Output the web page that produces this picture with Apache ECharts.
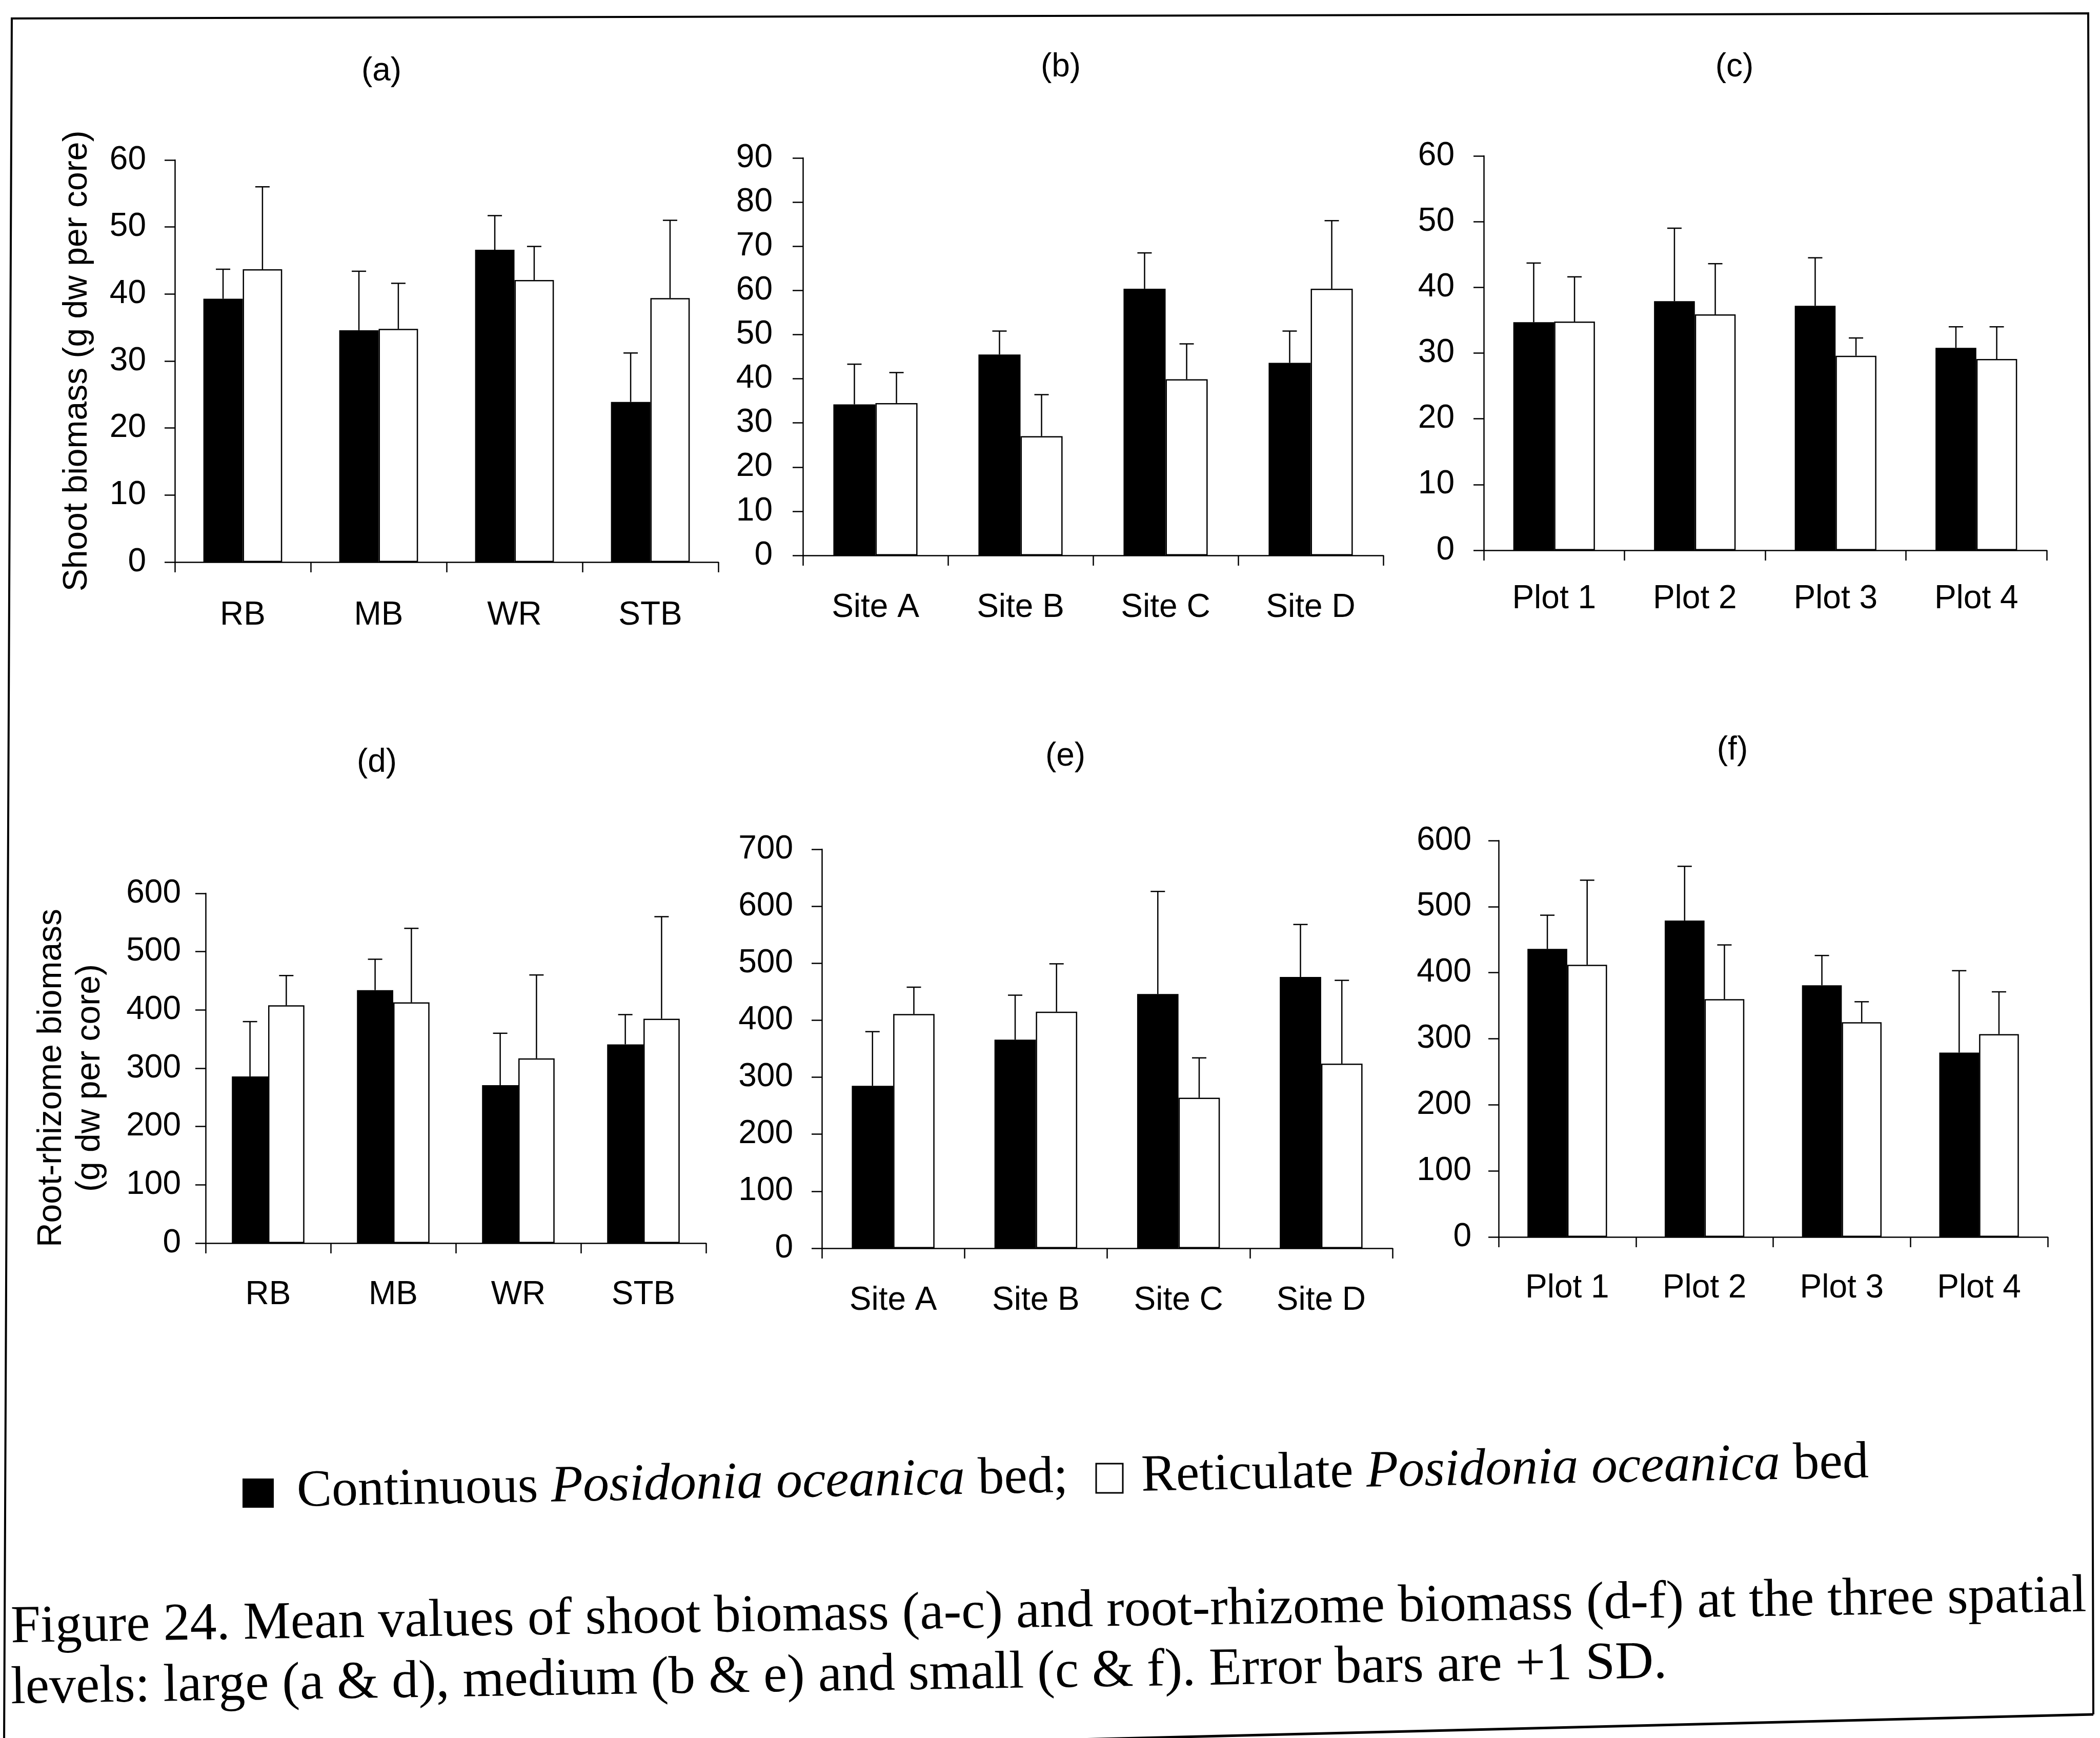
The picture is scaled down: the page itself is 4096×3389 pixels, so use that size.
<!DOCTYPE html>
<html><head><meta charset="utf-8">
<script src="https://cdn.jsdelivr.net/npm/echarts@6/dist/echarts.min.js"></script>
<style>html,body{margin:0;padding:0;background:#fff;}#c{width:4096px;height:3389px;}</style>
</head><body><div id="c"></div>
<script>
// ---------- categories ----------
const catsLarge  = ['RB', 'MB', 'WR', 'STB'];
const catsMedium = ['Site A', 'Site B', 'Site C', 'Site D'];
const catsSmall  = ['Plot 1', 'Plot 2', 'Plot 3', 'Plot 4'];

// ---------- shoot biomass (g dw per core): mean and SD ----------
const shootLargeCont    = [39.3, 34.6, 46.6, 23.9];
const shootLargeContSD  = [4.4, 8.8, 5.1, 7.3];
const shootLargeRet     = [43.7, 34.8, 42.1, 39.4];
const shootLargeRetSD   = [12.3, 6.8, 5.0, 11.6];

const shootMediumCont   = [34.2, 45.5, 60.4, 43.6];
const shootMediumContSD = [9.1, 5.3, 8.1, 7.2];
const shootMediumRet    = [34.5, 27.0, 39.9, 60.4];
const shootMediumRetSD  = [6.9, 9.4, 8.0, 15.4];

const shootSmallCont    = [34.7, 37.9, 37.2, 30.8];
const shootSmallContSD  = [9.0, 11.1, 7.3, 3.2];
const shootSmallRet     = [34.8, 35.9, 29.6, 29.1];
const shootSmallRetSD   = [6.8, 7.7, 2.7, 4.9];

// ---------- root-rhizome biomass (g dw per core): mean and SD ----------
const rootLargeCont     = [286, 434, 271, 341];
const rootLargeContSD   = [94, 53, 89, 51];
const rootLargeRet      = [408, 413, 317, 385];
const rootLargeRetSD    = [51, 127, 143, 175];

const rootMediumCont    = [285, 366, 446, 476];
const rootMediumContSD  = [95, 78, 180, 92];
const rootMediumRet     = [411, 415, 264, 324];
const rootMediumRetSD   = [47, 84, 70, 146];

const rootSmallCont     = [436, 479, 381, 279];
const rootSmallContSD   = [51, 82, 45, 124];
const rootSmallRet      = [412, 360, 325, 307];
const rootSmallRetSD    = [128, 82, 31, 64];

// ---------- axis scales ----------
const yMaxes  = [60, 90, 60, 600, 700, 600];
const ySteps  = [10, 10, 10, 100, 100, 100];
const panelLabels = ['(a)', '(b)', '(c)', '(d)', '(e)', '(f)'];
const yNameShoot = 'Shoot biomass (g dw per core)';
const yNameRoot  = 'Root-rhizome biomass\n(g dw per core)';
const legendContinuous = 'Continuous';
const legendReticulate = 'Reticulate';
const speciesName = 'Posidonia oceanica';
const captionLine1 = 'Figure 24. Mean values of shoot biomass (a-c) and root-rhizome biomass (d-f) at the three spatial';
const captionLine2 = 'levels: large (a & d), medium (b & e) and small (c & f). Error bars are +1 SD.';

// ---------- panels assembled from the arrays ----------
const panels = [
  {cats: catsLarge,  cont: shootLargeCont,  contSD: shootLargeContSD,  ret: shootLargeRet,  retSD: shootLargeRetSD,  name: yNameShoot},
  {cats: catsMedium, cont: shootMediumCont, contSD: shootMediumContSD, ret: shootMediumRet, retSD: shootMediumRetSD, name: ''},
  {cats: catsSmall,  cont: shootSmallCont,  contSD: shootSmallContSD,  ret: shootSmallRet,  retSD: shootSmallRetSD,  name: ''},
  {cats: catsLarge,  cont: rootLargeCont,   contSD: rootLargeContSD,   ret: rootLargeRet,   retSD: rootLargeRetSD,   name: yNameRoot},
  {cats: catsMedium, cont: rootMediumCont,  contSD: rootMediumContSD,  ret: rootMediumRet,  retSD: rootMediumRetSD,  name: ''},
  {cats: catsSmall,  cont: rootSmallCont,   contSD: rootSmallContSD,   ret: rootSmallRet,   retSD: rootSmallRetSD,   name: ''}
];

// ---------- layout (pixels) ----------
const layout = [
  {left: 341,  top: 312,  width: 1060, height: 784, yMargin: 56, xMargin: 72, tx: 744,  ty: 139, nameGap: 153},
  {left: 1566, top: 308,  width: 1132, height: 775, yMargin: 59, xMargin: 70, tx: 2069, ty: 131, nameGap: 0},
  {left: 2894, top: 304,  width: 1098, height: 769, yMargin: 57, xMargin: 63, tx: 3383, ty: 131, nameGap: 0},
  {left: 401,  top: 1742, width: 976,  height: 682, yMargin: 48, xMargin: 69, tx: 735,  ty: 1487, nameGap: 188},
  {left: 1603, top: 1656, width: 1113, height: 778, yMargin: 56, xMargin: 70, tx: 2078, ty: 1475, nameGap: 0},
  {left: 2923, top: 1639, width: 1071, height: 773, yMargin: 53, xMargin: 68, tx: 3379, ty: 1463, nameGap: 0}
];

const SANS = '"Liberation Sans", Arial, Helvetica, sans-serif';
const SERIF = '"Liberation Serif", "Times New Roman", Times, serif';
const FS = 64;
const LW = 2.5;
const SFS = 102;

function errRender(side) {
  return function (params, api) {
    const ci = api.value(0), m = api.value(1), sd = api.value(2);
    const base = api.coord([ci, m]);
    const top = api.coord([ci, m + sd]);
    const cw = api.size([1, 0])[0];
    const x = base[0] + side * cw * 0.145;
    const hw = 14;
    return {
      type: 'group',
      children: [
        {type: 'line', shape: {x1: x, y1: base[1], x2: x, y2: top[1]}, style: {stroke: '#000', lineWidth: LW}},
        {type: 'line', shape: {x1: x - hw, y1: top[1], x2: x + hw, y2: top[1]}, style: {stroke: '#000', lineWidth: LW}}
      ]
    };
  };
}

const grid = [], xAxis = [], yAxis = [], series = [];
panels.forEach((p, i) => {
  const L = layout[i];
  grid.push({left: L.left, top: L.top, width: L.width, height: L.height, containLabel: false});
  xAxis.push({
    gridIndex: i, type: 'category', data: p.cats,
    axisLine: {show: true, lineStyle: {color: '#000', width: LW}},
    axisTick: {show: true, length: 20, alignWithLabel: false, lineStyle: {color: '#000', width: LW}},
    axisLabel: {color: '#000', fontSize: FS, fontFamily: SANS, margin: L.xMargin, interval: 0},
    splitLine: {show: false}
  });
  const ya = {
    gridIndex: i, type: 'value', min: 0, max: yMaxes[i], interval: ySteps[i],
    axisLine: {show: true, lineStyle: {color: '#000', width: LW}},
    axisTick: {show: true, length: 20, lineStyle: {color: '#000', width: LW}},
    axisLabel: {color: '#000', fontSize: FS, fontFamily: SANS, margin: L.yMargin},
    splitLine: {show: false}
  };
  if (p.name) {
    ya.name = p.name;
    ya.nameLocation = 'middle';
    ya.nameGap = L.nameGap;
    ya.nameTextStyle = {color: '#000', fontSize: 66, fontFamily: SANS, lineHeight: 75,
      padding: i === 3 ? [0, 38, 0, 0] : 0};
  }
  yAxis.push(ya);
  series.push({
    type: 'bar', name: 'Continuous', xAxisIndex: i, yAxisIndex: i, data: p.cont,
    barGap: '0%', barCategoryGap: '42%',
    itemStyle: {color: '#000', borderColor: '#000', borderWidth: LW}, silent: true
  });
  series.push({
    type: 'bar', name: 'Reticulate', xAxisIndex: i, yAxisIndex: i, data: p.ret,
    barGap: '0%', barCategoryGap: '42%',
    itemStyle: {color: '#fff', borderColor: '#000', borderWidth: LW}, silent: true
  });
  series.push({
    type: 'custom', xAxisIndex: i, yAxisIndex: i, z: 5, silent: true,
    encode: {x: 0, y: 1},
    data: p.cont.map((v, k) => [k, v, p.contSD[k]]),
    renderItem: errRender(-1)
  });
  series.push({
    type: 'custom', xAxisIndex: i, yAxisIndex: i, z: 5, silent: true,
    encode: {x: 0, y: 1},
    data: p.ret.map((v, k) => [k, v, p.retSD[k]]),
    renderItem: errRender(1)
  });
});

const graphic = [];
// frame
graphic.push({type: 'polyline', shape: {points: [[8, 3392], [23, 36], [4073, 26], [4083, 3343]]},
  style: {stroke: '#000', lineWidth: 4, fill: null}, silent: true});
graphic.push({type: 'polyline', shape: {points: [[4083, 3343], [2100, 3392]]},
  style: {stroke: '#000', lineWidth: 5, fill: null}, silent: true});
// panel labels
layout.forEach((L, i) => {
  graphic.push({type: 'text', x: L.tx, y: L.ty, silent: true,
    style: {text: panelLabels[i], fontSize: FS, fontFamily: SANS, fill: '#000', align: 'center', verticalAlign: 'middle'}});
});
// legend
const rich = {
  n: {fontSize: SFS, fontFamily: SERIF, fill: '#000'},
  i: {fontSize: SFS, fontFamily: SERIF, fontStyle: 'italic', fill: '#000'}
};
graphic.push({type: 'rect', shape: {x: 473, y: 2883, width: 61, height: 57}, style: {fill: '#000'}, silent: true});
graphic.push({type: 'text', x: 579, y: 2910, rotation: 0.0184, silent: true,
  style: {text: '{n|' + legendContinuous + ' }{i|' + speciesName + '}{n| bed;}', rich: rich,
    fontSize: SFS, fontFamily: SERIF, fill: '#000', align: 'left', verticalAlign: 'middle'}});
graphic.push({type: 'rect', shape: {x: 2138, y: 2854, width: 52, height: 57},
  style: {fill: '#fff', stroke: '#000', lineWidth: 3}, silent: true});
graphic.push({type: 'text', x: 2226, y: 2880, rotation: 0.0184, silent: true,
  style: {text: '{n|' + legendReticulate + ' }{i|' + speciesName + '}{n| bed}', rich: rich,
    fontSize: SFS, fontFamily: SERIF, fill: '#000', align: 'left', verticalAlign: 'middle'}});
// caption
graphic.push({type: 'text', x: 21, y: 3175, rotation: 0.015, silent: true,
  style: {text: captionLine1, fontSize: 104, fontFamily: SERIF, fill: '#000', align: 'left', verticalAlign: 'middle'}});
graphic.push({type: 'text', x: 21, y: 3294, rotation: 0.0155, silent: true,
  style: {text: captionLine2, fontSize: 104, fontFamily: SERIF, fill: '#000', align: 'left', verticalAlign: 'middle'}});

const chart = echarts.init(document.getElementById('c'), null, {renderer: 'canvas'});
chart.setOption({
  backgroundColor: '#fff',
  animation: false,
  grid: grid, xAxis: xAxis, yAxis: yAxis, series: series,
  graphic: graphic
});
</script></body></html>
